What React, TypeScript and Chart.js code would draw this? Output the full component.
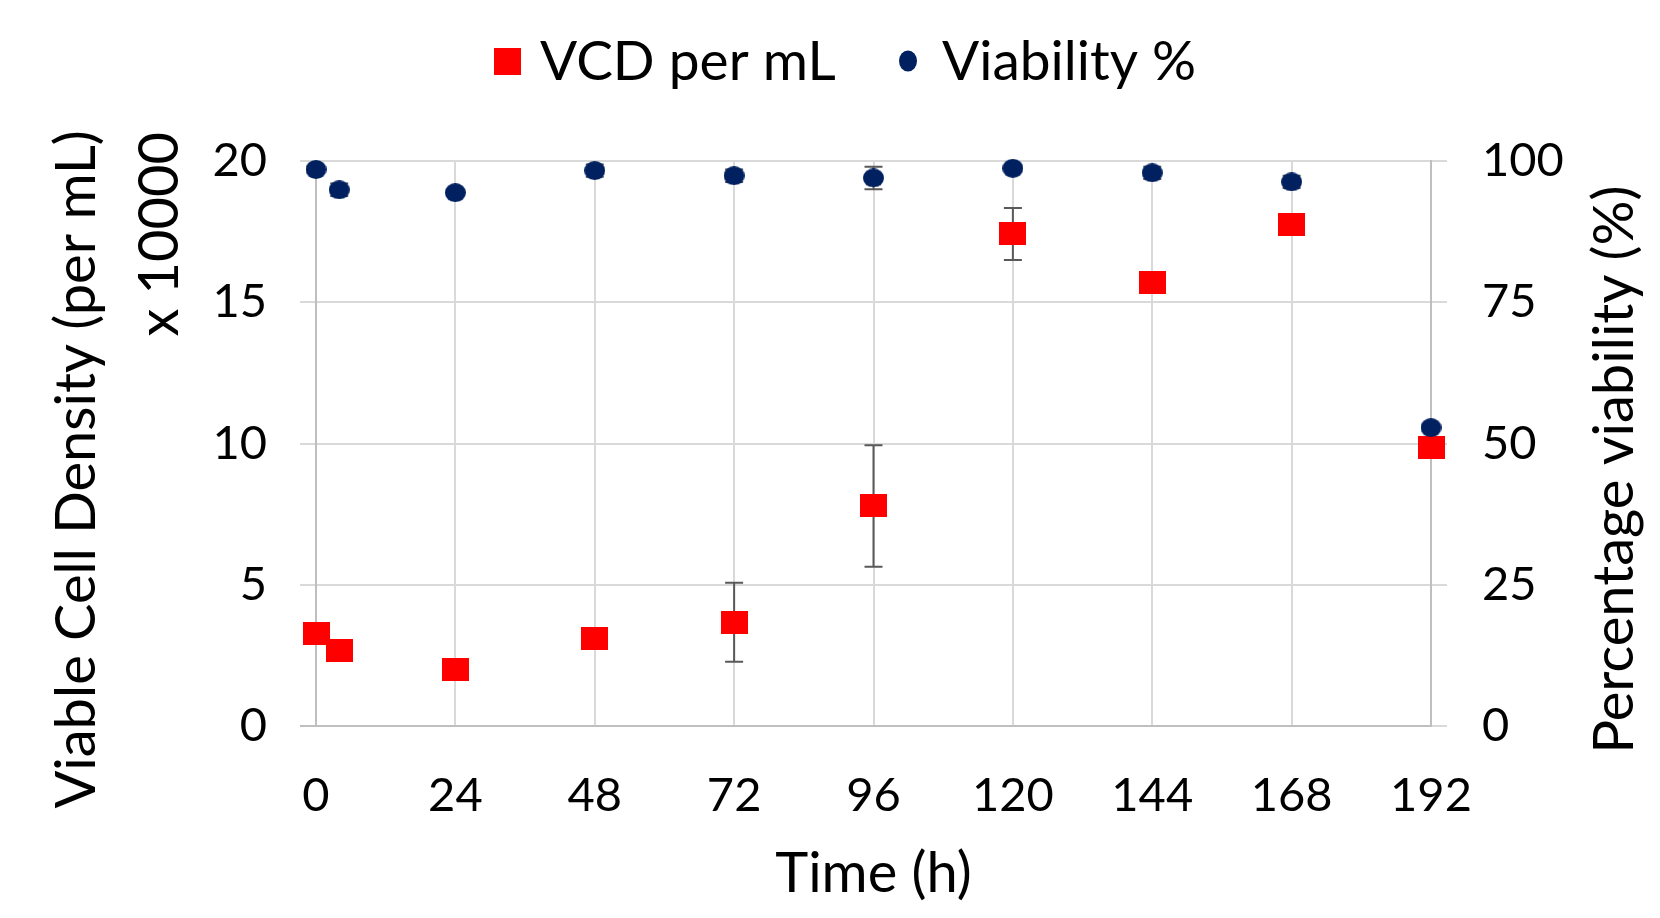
import React, { useEffect, useRef } from "react";
import { Chart, registerables } from "chart.js";

Chart.register(...registerables);

// ---- Data ----
const timeHours = [0, 4, 24, 48, 72, 96, 120, 144, 168, 192];
const vcdValues = [3.26, 2.66, 1.99, 3.11, 3.67, 7.79, 17.42, 15.69, 17.75, 9.85];
const vcdErrors = [0, 0, 0, 0, 1.4, 2.15, 0.92, 0, 0, 0];
const viabilityValues = [98.5, 94.9, 94.4, 98.3, 97.4, 97.0, 98.7, 97.9, 96.3, 52.8];
const viabilityErrors = [0, 1.1, 0, 1.1, 1.1, 2.0, 0, 1.1, 1.1, 0];

const xTickValues = [0, 24, 48, 72, 96, 120, 144, 168, 192];
const leftTickValues = [0, 5, 10, 15, 20];
const rightTickValues = [0, 25, 50, 75, 100];

const seriesNames = ["VCD per mL", "Viability %"];
const xTitle = "Time (h)";
const leftTitleLines = ["Viable Cell Density (per mL)", "x 10000"];
const rightTitle = "Percentage viability (%)";

const RED = "#FF0000";
const NAVY = "#002060";
const GRID = "#D9D9D9";
const AXIS = "#BFBFBF";
const ERR = "#595959";
const FONT = "Lato";

function makeRect(w: number, h: number, color: string) {
  const c = document.createElement("canvas");
  c.width = w;
  c.height = h;
  const g = c.getContext("2d")!;
  g.fillStyle = color;
  g.fillRect(0, 0, w, h);
  return c;
}

function makeEllipse(w: number, h: number, color: string) {
  const c = document.createElement("canvas");
  c.width = w;
  c.height = h;
  const g = c.getContext("2d")!;
  g.fillStyle = color;
  g.beginPath();
  g.ellipse(w / 2, h / 2, w / 2, h / 2, 0, 0, Math.PI * 2);
  g.fill();
  return c;
}

const errorBarPlugin = {
  id: "errorBars",
  beforeDatasetsDraw(chart: any) {
    const ctx = chart.ctx;
    const xs = chart.scales.x;
    const specs = [
      { scale: chart.scales.y, vals: vcdValues, errs: vcdErrors },
      { scale: chart.scales.y1, vals: viabilityValues, errs: viabilityErrors },
    ];
    ctx.save();
    ctx.strokeStyle = ERR;
    ctx.lineWidth = 2;
    specs.forEach((s) => {
      s.vals.forEach((v, i) => {
        const e = s.errs[i];
        if (!e) return;
        const px = xs.getPixelForValue(timeHours[i]);
        const top = s.scale.getPixelForValue(v + e);
        const bot = s.scale.getPixelForValue(v - e);
        const cap = 9;
        ctx.beginPath();
        ctx.moveTo(px, top);
        ctx.lineTo(px, bot);
        ctx.moveTo(px - cap, top);
        ctx.lineTo(px + cap, top);
        ctx.moveTo(px - cap, bot);
        ctx.lineTo(px + cap, bot);
        ctx.stroke();
      });
    });
    ctx.restore();
  },
};

const textPlugin = {
  id: "customTexts",
  afterDraw(chart: any) {
    const ctx = chart.ctx;
    const area = chart.chartArea;
    const midX = (area.left + area.right) / 2;
    const midY = (area.top + area.bottom) / 2;
    ctx.save();
    ctx.fillStyle = "#000000";
    ctx.font = `56px ${FONT}`;
    ctx.textBaseline = "alphabetic";

    // x title
    ctx.textAlign = "center";
    ctx.fillText(xTitle, midX, 892);

    // left title, line 1 (centered)
    ctx.save();
    ctx.translate(95, midY + 26);
    ctx.rotate(-Math.PI / 2);
    ctx.textAlign = "center";
    ctx.fillText(leftTitleLines[0], 0, 0);
    ctx.restore();

    // left title, line 2 (aligned to top end)
    ctx.save();
    ctx.translate(178, 132);
    ctx.rotate(-Math.PI / 2);
    ctx.textAlign = "right";
    ctx.fillText(leftTitleLines[1], 0, 0);
    ctx.restore();

    // right title
    ctx.save();
    ctx.translate(1633, midY + 26);
    ctx.rotate(-Math.PI / 2);
    ctx.textAlign = "center";
    ctx.fillText(rightTitle, 0, 0);
    ctx.restore();

    // legend
    ctx.font = `55px ${FONT}`;
    ctx.textAlign = "left";
    ctx.fillStyle = RED;
    ctx.fillRect(494, 48, 27, 27);
    ctx.fillStyle = "#000000";
    ctx.fillText(seriesNames[0], 540, 80);
    ctx.fillStyle = NAVY;
    ctx.beginPath();
    ctx.ellipse(908, 61, 9, 10.5, 0, 0, Math.PI * 2);
    ctx.fill();
    ctx.fillStyle = "#000000";
    ctx.fillText(seriesNames[1], 942, 80);
    ctx.restore();
  },
};

export default function App() {
  const canvasRef = useRef<HTMLCanvasElement | null>(null);

  useEffect(() => {
    document.body.style.margin = "0";
    let chart: Chart | null = null;
    let cancelled = false;

    const create = () => {
      if (cancelled || !canvasRef.current) return;
      const squareImg = makeRect(27, 23, RED);
      const dotImg = makeEllipse(21, 19, NAVY);
      const tickFont = { family: FONT, size: 47 };

      chart = new Chart(canvasRef.current, {
        type: "scatter",
        data: {
          datasets: [
            {
              label: seriesNames[1],
              data: timeHours.map((t, i) => ({ x: t, y: viabilityValues[i] })),
              yAxisID: "y1",
              pointStyle: dotImg as any,
              backgroundColor: NAVY,
              borderColor: NAVY,
              showLine: false,
              clip: false as any,
              order: 0,
            },
            {
              label: seriesNames[0],
              data: timeHours.map((t, i) => ({ x: t, y: vcdValues[i] })),
              yAxisID: "y",
              pointStyle: squareImg as any,
              backgroundColor: RED,
              borderColor: RED,
              showLine: false,
              clip: false as any,
              order: 1,
            },
          ],
        },
        options: {
          animation: false,
          responsive: true,
          maintainAspectRatio: false,
          layout: { padding: { top: 161, left: 0, right: 0, bottom: 0 } },
          plugins: {
            legend: { display: false },
            tooltip: { enabled: false },
          },
          scales: {
            x: {
              type: "linear",
              position: "bottom",
              min: 0,
              max: 192,
              afterBuildTicks: (s: any) => {
                s.ticks = xTickValues.map((v) => ({ value: v }));
              },
              afterFit: (s: any) => {
                s.height = 192;
              },
              grid: {
                color: (c: any) =>
                  c.tick && (c.tick.value === 0 || c.tick.value === 192) ? AXIS : GRID,
                lineWidth: 2,
                drawTicks: false,
              },
              border: { color: AXIS, width: 2 },
              ticks: { font: tickFont, color: "#000000", padding: 42, maxRotation: 0 },
            },
            y: {
              type: "linear",
              position: "left",
              min: 0,
              max: 20,
              afterBuildTicks: (s: any) => {
                s.ticks = leftTickValues.map((v) => ({ value: v }));
              },
              afterFit: (s: any) => {
                s.width = 316;
              },
              grid: {
                color: (c: any) => (c.tick && c.tick.value === 0 ? AXIS : GRID),
                lineWidth: 2,
                tickLength: 16,
              },
              border: { color: AXIS, width: 2 },
              ticks: { font: tickFont, color: "#000000", padding: 33 },
            },
            y1: {
              type: "linear",
              position: "right",
              min: 0,
              max: 100,
              afterBuildTicks: (s: any) => {
                s.ticks = rightTickValues.map((v) => ({ value: v }));
              },
              afterFit: (s: any) => {
                s.width = 229;
              },
              grid: {
                drawOnChartArea: false,
                color: GRID,
                lineWidth: 2,
                tickLength: 16,
              },
              border: { color: AXIS, width: 2 },
              ticks: { font: tickFont, color: "#000000", padding: 35 },
            },
          },
        },
        plugins: [errorBarPlugin, textPlugin],
      });
    };

    if ((document as any).fonts && (document as any).fonts.load) {
      (document as any).fonts
        .load(`47px ${FONT}`)
        .then(create, create);
    } else {
      create();
    }

    return () => {
      cancelled = true;
      if (chart) chart.destroy();
    };
  }, []);

  return (
    <div style={{ width: 1660, height: 918, position: "relative" }}>
      <canvas ref={canvasRef} />
    </div>
  );
}
